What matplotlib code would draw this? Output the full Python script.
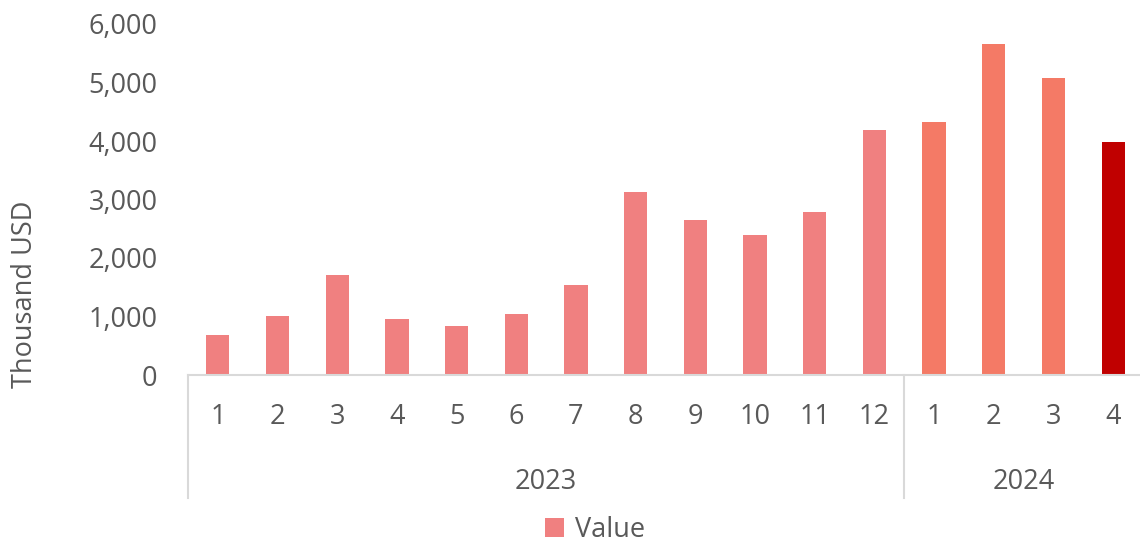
import matplotlib
matplotlib.use("Agg")
import matplotlib.pyplot as plt
from matplotlib import transforms
from matplotlib.ticker import FuncFormatter

# data
years = ["2023", "2024"]
months_per_year = [12, 4]
month_labels = [str(m) for m in range(1, 13)] + [str(m) for m in range(1, 5)]
values = [680, 1010, 1710, 950, 830, 1045, 1535, 3130,
          2650, 2395, 2790, 4185, 4325, 5660, 5075, 3985]

COLOR_2023 = "#F08080"
COLOR_2024 = "#F47A66"
COLOR_LAST = "#C00000"
TEXT = "#595959"
AXIS = "#D9D9D9"
FS = 19.5

plt.rcParams["font.family"] = ["Open Sans", "DejaVu Sans"]

fig = plt.figure(figsize=(11.4, 5.46), dpi=100)
ax = fig.add_axes([188 / 1140, 171 / 546, 955 / 1140, 351 / 546])

colors = []
for yi, n in enumerate(months_per_year):
    colors += [COLOR_2023 if yi == 0 else COLOR_2024] * n
colors[-1] = COLOR_LAST

x = list(range(len(values)))
ax.bar(x, values, width=0.39, color=colors, label="Value", zorder=2)

ax.set_xlim(-0.5, len(values) - 0.5)
ax.set_ylim(0, 6000)
ax.set_yticks(range(0, 6001, 1000))
ax.yaxis.set_major_formatter(FuncFormatter(lambda v, p: f"{int(v):,}"))
ax.tick_params(axis="y", length=0, pad=22, labelsize=FS, labelcolor=TEXT)
ax.set_xticks([])

for s in ["top", "right", "left"]:
    ax.spines[s].set_visible(False)
ax.spines["bottom"].set_color(AXIS)
ax.spines["bottom"].set_linewidth(1.5)

trans = transforms.blended_transform_factory(ax.transData, ax.transAxes)

# month labels
for xi, lab in zip(x, month_labels):
    ax.text(xi, -0.12, lab, transform=trans, ha="center", va="center",
            fontsize=FS, color=TEXT, clip_on=False)

# year groups and separators
start = 0
bounds = [-0.5]
for yr, n in zip(years, months_per_year):
    ax.text(start + (n - 1) / 2, -0.305, yr, transform=trans, ha="center",
            va="center", fontsize=FS, color=TEXT, clip_on=False)
    start += n
    bounds.append(start - 0.5)
for b in bounds:
    ax.plot([b, b], [0, -0.35], transform=trans, color=AXIS, lw=1.5,
            clip_on=False)

fig.text(25 / 1140, (546 - 294) / 546, "Thousand USD", rotation=90,
         ha="center", va="center", fontsize=FS, color=TEXT)

handles, labels = ax.get_legend_handles_labels()
fig.legend(handles[:1], labels[:1], loc="center",
           bbox_to_anchor=(595 / 1140, (546 - 530) / 546), frameon=False,
           fontsize=FS, labelcolor=TEXT, handlelength=0.7, handleheight=0.7,
           handletextpad=0.4, borderpad=0.2)

fig.savefig("out.png", dpi=100, facecolor="white")
